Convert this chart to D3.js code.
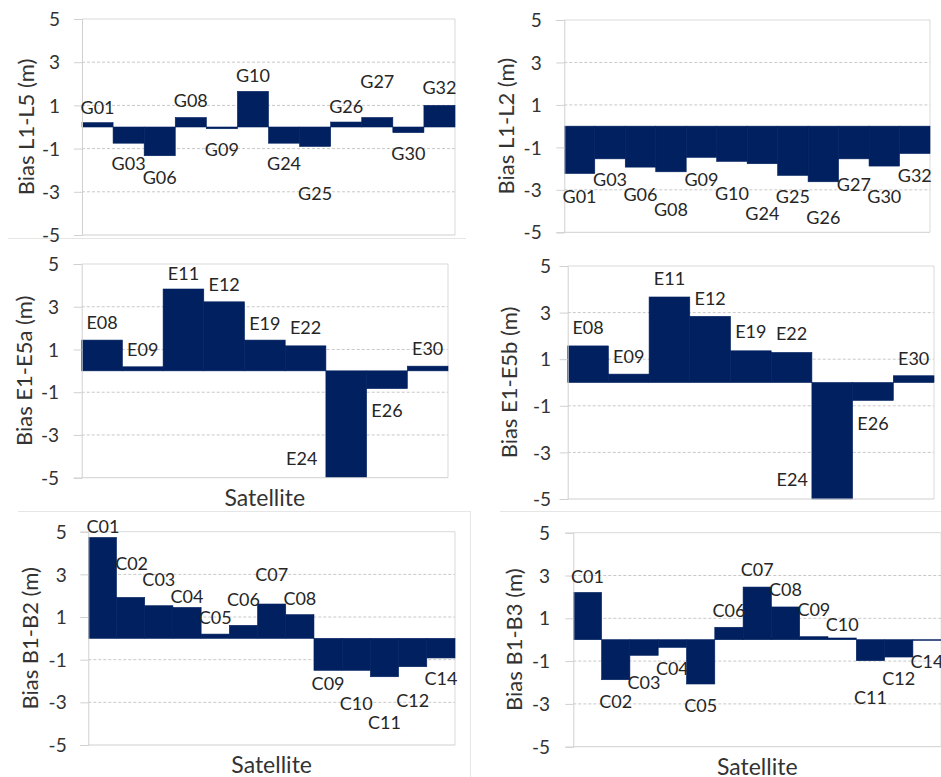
<!DOCTYPE html>
<html><head><meta charset="utf-8">
<script src="https://cdn.jsdelivr.net/npm/d3@7"></script>
<style>body{margin:0;background:#fff}svg{display:block}</style>
</head><body>
<svg id="chart" width="941" height="777"></svg>
<script>
// ---------- DATA ----------
const tickValues = [-5, -3, -1, 1, 3, 5];
const gridValues = [-3, -1, 1, 3];

const gpsSats = ["G01","G03","G06","G08","G09","G10","G24","G25","G26","G27","G30","G32"];
const biasL1L5 = [0.2, -0.75, -1.33, 0.44, -0.08, 1.65, -0.75, -0.9, 0.23, 0.44, -0.26, 1.0];
const biasL1L2 = [-2.23, -1.54, -1.93, -2.15, -1.47, -1.66, -1.77, -2.32, -2.62, -1.54, -1.88, -1.29];

const galSats = ["E08","E09","E11","E12","E19","E22","E24","E26","E30"];
const biasE1E5a = [1.44, 0.19, 3.83, 3.23, 1.44, 1.17, -5.0, -0.83, 0.22];
const biasE1E5b = [1.57, 0.36, 3.67, 2.84, 1.36, 1.29, -5.0, -0.77, 0.29];

const bdsSats = ["C01","C02","C03","C04","C05","C06","C07","C08","C09","C10","C11","C12","C14"];
const biasB1B2 = [4.73, 1.92, 1.53, 1.45, 0.2, 0.61, 1.61, 1.11, -1.5, -1.5, -1.8, -1.33, -0.92];
const biasB1B3 = [2.21, -1.87, -0.73, -0.36, -2.07, 0.58, 2.46, 1.53, 0.14, 0.08, -0.98, -0.81, -0.03];

const yTitles = ["Bias L1-L5 (m)", "Bias L1-L2 (m)", "Bias E1-E5a (m)", "Bias E1-E5b (m)", "Bias B1-B2 (m)", "Bias B1-B3 (m)"];
const xTitle = "Satellite";

// ---------- LAYOUT (positions / label nudges) ----------
const layout = [
  {left:82, right:455, top:19, bottom:235, tickRight:60, titleX:25, showX:false,
   ldy:[1.3,0,1,-0.5,0,0.6,0,26.6,1,-19.5,0.4,-1.4], ldx:[]},
  {left:564.3, right:930, top:20, bottom:232.3, tickRight:541.7, titleX:505, showX:false,
   ldy:[3,0,7,17,2,12,29,1,15,5,10,1], ldx:[]},
  {left:81.7, right:448, top:264, bottom:477.7, tickRight:59, titleX:23, showX:true,
   ldy:[-1,-1,1,-1,0,-2,-39.5,1.6,-1], ldx:[0,0,0,0,0,0,-44.5,0,0]},
  {left:567.7, right:934, top:266, bottom:499, tickRight:551, titleX:508, showX:false,
   ldy:[-2.4,-1.3,-2.2,-1.8,-3,-2.6,-40,2.7,-1.2], ldx:[0,0,0,0,0,0,-40,0,0]},
  {left:88.3, right:455, top:531.7, bottom:745, tickRight:66.7, titleX:29, showX:true,
   ldy:[5.6,-17,-9.7,5.6,0.3,-9.3,-13,0.7,-7,12.4,25.6,13.3,0.4], ldx:[0.5,1,0,0,0,0,0,0,0,0,0,0,0]},
  {left:573.3, right:941.2, top:532.7, bottom:746.7, tickRight:550, titleX:513, showX:true,
   ldy:[0.3,1.7,7,0.6,0.7,-0.6,-1,-1,-10.7,2.7,16.3,1,0.4], ldx:[]}
];

const panels = [
  {cats: gpsSats, vals: biasL1L5},
  {cats: gpsSats, vals: biasL1L2},
  {cats: galSats, vals: biasE1E5a},
  {cats: galSats, vals: biasE1E5b},
  {cats: bdsSats, vals: biasB1B2},
  {cats: bdsSats, vals: biasB1B3}
];

const FONT = "Lato, 'Open Sans', sans-serif";
const BAR = "#002060";
const svg = d3.select("#chart");

// faint chart-area borders
const frame = svg.append("g").attr("stroke", "#e6e6e6").attr("stroke-width", 1);
frame.append("line").attr("x1", 8).attr("x2", 466).attr("y1", 238.5).attr("y2", 238.5);
frame.append("line").attr("x1", 18).attr("x2", 470).attr("y1", 511.5).attr("y2", 511.5);
frame.append("line").attr("x1", 500).attr("x2", 941).attr("y1", 511.5).attr("y2", 511.5);
frame.append("line").attr("x1", 470.5).attr("x2", 470.5).attr("y1", 511).attr("y2", 777);

panels.forEach((p, k) => {
  const L = layout[k];
  const g = svg.append("g");
  const x = d3.scaleBand().domain(p.cats).range([L.left, L.right]).padding(0);
  const y = d3.scaleLinear().domain([-5, 5]).range([L.bottom, L.top]);

  // gridlines
  g.append("g").selectAll("line").data(gridValues).join("line")
    .attr("x1", L.left).attr("x2", L.right)
    .attr("y1", d => y(d)).attr("y2", d => y(d))
    .attr("stroke", "#c8c8c8").attr("stroke-width", 1).attr("stroke-dasharray", "3,2");

  // plot border (top & right)
  g.append("line").attr("x1", L.left).attr("x2", L.right).attr("y1", y(5)).attr("y2", y(5))
    .attr("stroke", "#d9d9d9");
  g.append("line").attr("x1", L.right).attr("x2", L.right).attr("y1", y(5)).attr("y2", y(-5))
    .attr("stroke", "#d9d9d9");

  // bars
  g.append("g").selectAll("rect").data(p.cats).join("rect")
    .attr("x", d => x(d))
    .attr("width", x.bandwidth())
    .attr("y", (d, i) => Math.min(y(p.vals[i]), y(0)))
    .attr("height", (d, i) => Math.abs(y(p.vals[i]) - y(0)))
    .attr("fill", BAR).attr("stroke", BAR).attr("stroke-width", 0.6);

  // bottom axis line at -5
  g.append("line").attr("x1", L.left).attr("x2", L.right).attr("y1", y(-5)).attr("y2", y(-5))
    .attr("stroke", "#d0d0d0");

  // y axis
  const yAxis = d3.axisLeft(y).tickValues(tickValues).tickSize(8)
    .tickPadding(L.left - L.tickRight - 8).tickFormat(d => String(d));
  const ax = g.append("g").attr("transform", `translate(${L.left},0)`).call(yAxis);
  ax.select(".domain").attr("stroke", "#d0d0d0");
  ax.selectAll(".tick line").attr("stroke", "#d0d0d0");
  ax.selectAll(".tick text").attr("font-family", FONT).attr("font-size", 19)
    .attr("fill", "#333333").attr("dy", "0.35em");

  // y title
  g.append("text")
    .attr("transform", `translate(${L.titleX},${(L.top + L.bottom) / 2}) rotate(-90)`)
    .attr("text-anchor", "middle").attr("dominant-baseline", "central")
    .attr("font-family", FONT).attr("font-size", 22).attr("fill", "#333333")
    .text(yTitles[k]);

  // x title
  if (L.showX) {
    g.append("text")
      .attr("x", (L.left + L.right) / 2).attr("y", L.bottom + 19)
      .attr("text-anchor", "middle").attr("dominant-baseline", "central")
      .attr("font-family", FONT).attr("font-size", 23).attr("fill", "#333333")
      .text(xTitle);
  }

  // data labels
  g.append("g").selectAll("text").data(p.cats).join("text")
    .attr("x", (d, i) => x(d) + x.bandwidth() / 2 + (L.ldx[i] || 0))
    .attr("y", (d, i) => y(p.vals[i]) + (p.vals[i] >= 0 ? -17 : 20) + (L.ldy[i] || 0))
    .attr("text-anchor", "middle").attr("dominant-baseline", "central")
    .attr("font-family", FONT).attr("font-size", 18).attr("fill", "#262626")
    .text(d => d);
});
</script>
</body></html>
